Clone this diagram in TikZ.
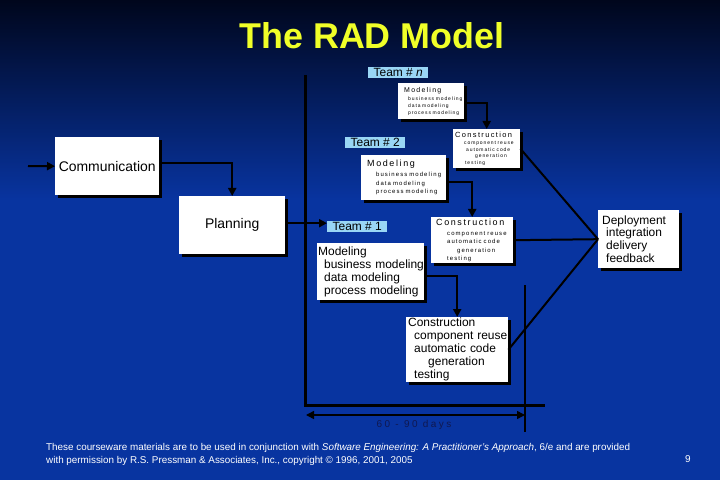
\documentclass[tikz,border=0pt]{standalone}
\usepackage{fontspec}
\setmainfont{Liberation Sans}
\newfontfamily\trackfont[LetterSpace=18]{Liberation Sans}
\newfontfamily\daysfont[LetterSpace=25]{Liberation Sans}
\usetikzlibrary{arrows.meta,shadows,positioning}
\definecolor{slideblue}{RGB}{8,52,160}
\definecolor{slidetop}{RGB}{0,6,28}
\definecolor{teamblue}{RGB}{153,214,245}
\definecolor{titleyellow}{RGB}{240,255,40}
\definecolor{daysblue}{RGB}{16,24,80}
\hyphenpenalty=10000
\exhyphenpenalty=10000
\hbadness=10000
\hfuzz=50pt
\tikzset{
	>={Triangle[length=8bp,width=8bp]},
}

\begin{document}
\begin{tikzpicture}[x=1bp,y=-1bp,
            box/.style={fill=white, anchor=north west, align=left, inner ysep=1bp,
                drop shadow={shadow xshift=3bp,shadow yshift=-3bp,fill=black,opacity=1}},
            bigbox/.style={box, align=center, font=\fontsize{14}{16}\selectfont},
            teamlabel/.style={fill=teamblue, anchor=north west, align=left, inner sep=1bp,
                minimum width=60bp, font=\fontsize{12}{13}\selectfont},
            conn/.style={->, line width=2bp},
            wire/.style={line width=2bp}
        ]
        % background
        \shade[top color=slidetop, bottom color=slideblue] (0,0) rectangle (720,200);
        \fill[slideblue] (0,200) rectangle (720,480);
        \useasboundingbox (0,0) rectangle (720,480);

        \node[font=\bfseries\fontsize{36}{40}\selectfont, text=titleyellow] (title) at (372,36) {The RAD Model};

        % time line
        \coordinate (tstart) at (305,75);
        \coordinate (tcorner) at (305,405);
        \coordinate (tend) at (545,405);
        \coordinate (mtop) at (525,285);
        \coordinate (mbot) at (525,432);
        \coordinate (dleft) at (306,415);
        \coordinate (dright) at (525,415);
        \coordinate (feed) at (28,166);
        \draw[line width=3bp] (tstart) -- (tcorner) -- (tend);
        \draw[line width=1.5bp] (mtop) -- (mbot);
        \draw[<->, line width=1.5bp] (dleft) -- (dright);
        \node[font=\daysfont\fontsize{10}{12}\selectfont, text=daysblue] (days) at (414,425) {60 - 90 days};

        % communication and planning
        \node[bigbox, minimum width=104bp, minimum height=58bp] (com) at (55,137) {Communication};
        \node[bigbox, minimum width=106bp, minimum height=58bp] (plan) at (179,196) {Planning};

        % team 1
        \node[teamlabel] (t1) at (327,221) {Team \# 1};
        \node[box, inner xsep=1bp, text width=105bp, minimum height=57bp,
            font=\fontsize{12}{13}\selectfont] (mod1) at (317,243)
            {Modeling\\\hspace*{6bp}business~modeling\\\hspace*{6bp}data~modeling\\\hspace*{6bp}process~modeling};
        \node[box, inner xsep=2bp, text width=98bp, minimum height=65bp,
            font=\fontsize{12}{13}\selectfont] (con1) at (406,317)
            {Construction\\\hspace*{6bp}component~reuse\\\hspace*{6bp}automatic~code\\\hspace*{20bp}generation\\\hspace*{6bp}testing};

        % team 2
        \node[teamlabel] (t2) at (345,137) {Team \# 2};
        \node[box, inner xsep=6bp, text width=73bp, minimum height=45bp,
            font=\trackfont\fontsize{6}{8.5}\selectfont] (mod2) at (361,155)
            {{\fontsize{9}{10}\selectfont Modeling}\\[1.5bp]\hspace*{9bp}business~modeling\\\hspace*{9bp}data~modeling\\\hspace*{9bp}process~modeling};
        \node[box, inner xsep=5bp, text width=72bp, minimum height=46bp,
            font=\trackfont\fontsize{6}{8.5}\selectfont] (con2) at (431,217)
            {{\fontsize{9}{10}\selectfont Construction}\\[1.5bp]\hspace*{11bp}component~reuse\\\hspace*{11bp}automatic~code\\\hspace*{21bp}generation\\\hspace*{11bp}testing};

        % team n
        \node[teamlabel] (tn) at (368,67) {Team \# \textit{n}};
        \node[box, inner xsep=6bp, text width=54bp, minimum height=36bp,
            font=\trackfont\fontsize{5}{7}\selectfont] (modn) at (398,83)
            {{\fontsize{7}{8}\selectfont Modeling}\\[1bp]\hspace*{4bp}business~modeling\\\hspace*{4bp}data~modeling\\\hspace*{4bp}process~modeling};
        \node[box, inner xsep=2bp, text width=63bp, minimum height=39bp,
            font=\trackfont\fontsize{5}{6.8}\selectfont] (conn) at (453,129)
            {{\fontsize{7.5}{8}\selectfont Construction}\\[0.5bp]\hspace*{9bp}component~reuse\\\hspace*{11bp}automatic~code\\\hspace*{20bp}generation\\\hspace*{10bp}testing};

        % deployment
        \node[box, inner xsep=4bp, text width=73bp, minimum height=58bp,
            font=\fontsize{12}{13}\selectfont] (dep) at (598,210)
            {Deployment\\\hspace*{4bp}integration\\\hspace*{4bp}delivery\\\hspace*{4bp}feedback};

        % connectors
        \draw[conn] (feed) -- (com.west);
        \draw[conn] ([yshift=3bp]com.east) -| (plan.north);
        \draw[conn] ([yshift=2bp]plan.east) -- ([yshift=2bp]plan.east -| t1.west);
        \draw[conn] ([yshift=-4bp]mod1.east) -| (con1.north);
        \draw[conn] ([yshift=-4bp]mod2.east) -| (con2.north);
        \draw[conn] ([yshift=-2bp]modn.east) -| (conn.north);
        \draw[wire] (conn.east) -- (dep.west);
        \draw[wire] (con2.east) -- (dep.west);
        \draw[wire] (con1.east) -- (dep.west);

        % footer
        \node[anchor=north west, align=left, inner sep=0pt, text=white,
            font=\fontsize{9.9}{13}\selectfont] (foot) at (46,443)
            {These courseware materials are to be used in conjunction with \textit{Software Engineering: A Practitioner's Approach}, 6/e and are provided\\
            with permission by R.S. Pressman \& Associates, Inc., copyright \textcopyright{} 1996, 2001, 2005};
        \node[text=white, font=\fontsize{10}{12}\selectfont] (page) at (688,459) {9};
    \end{tikzpicture}
\end{document}
